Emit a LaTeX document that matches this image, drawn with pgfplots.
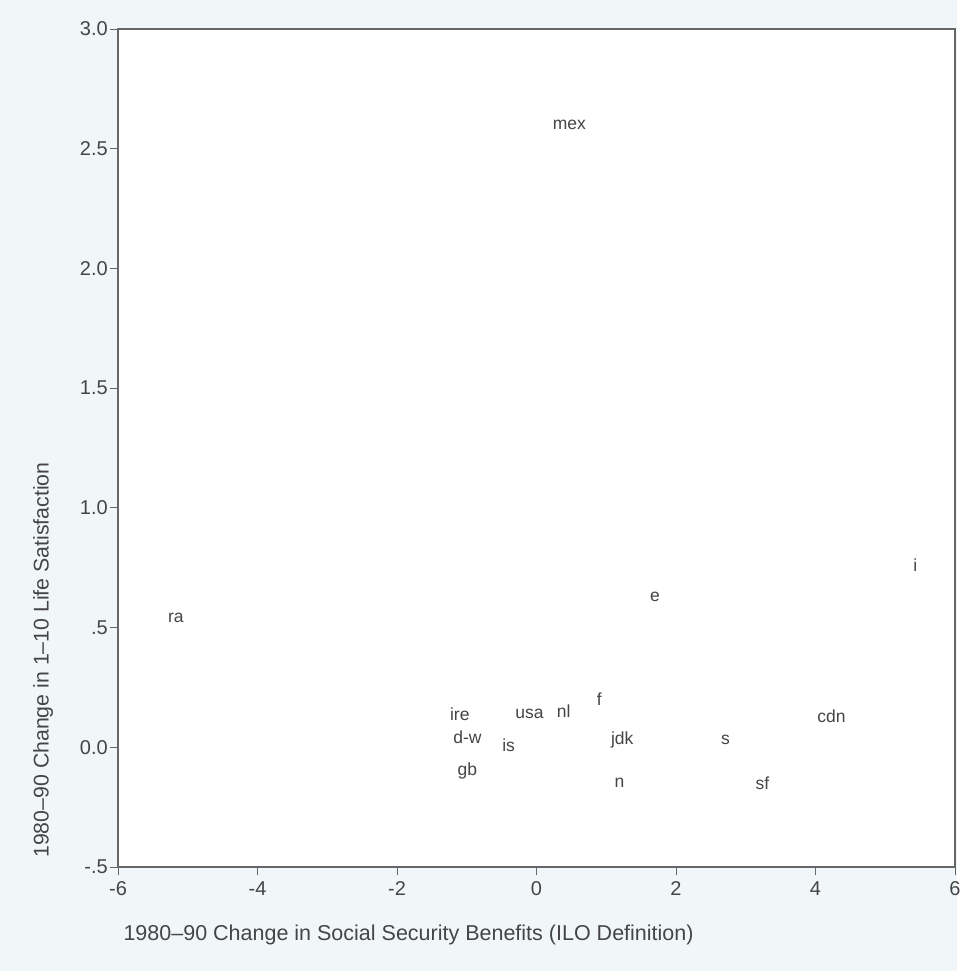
\documentclass[border=0pt]{standalone}
\usepackage{pgfplots}
\pgfplotsset{compat=1.18}
\usepackage{pgfplotstable}
\usetikzlibrary{backgrounds}
\usepackage{fontspec}
\setmainfont{Liberation Sans}
\definecolor{txt}{HTML}{454545}
\definecolor{axc}{HTML}{666666}
\definecolor{pagebg}{HTML}{F1F7F9}
\pgfplotstableread{
x y lab
0.47 2.60 mex
-5.17 0.54 ra
5.43 0.76 i
1.70 0.63 e
-1.10 0.14 ire
-0.10 0.14 usa
0.39 0.15 nl
0.90 0.20 f
4.23 0.13 cdn
-0.99 0.04 d-w
-0.40 0.01 is
1.23 0.03 jdk
2.71 0.03 s
-0.99 -0.10 gb
1.19 -0.15 n
3.24 -0.15 sf
}\datatable
\begin{document}
\begin{tikzpicture}
\begin{axis}[
  scale only axis,
  width=837pt, height=838pt,
  xmin=-6, xmax=6, ymin=-0.5, ymax=3.0,
  axis background/.style={fill=white},
  axis line style={axc, line width=1.1pt},
  xtick={-6,-4,-2,0,2,4,6},
  xticklabels={-6,-4,-2,0,2,4,6},
  ytick={-0.5,0,0.5,1,1.5,2,2.5,3},
  yticklabels={-.5,0.0,.5,1.0,1.5,2.0,2.5,3.0},
  tick align=outside,
  xtick pos=left, ytick pos=left,
  major tick length=8pt,
  tick style={axc, line width=0.9pt},
  /pgf/number format/assume math mode=true,
  ticklabel style={font=\fontsize{20}{22}\selectfont, text=txt},
  yticklabel style={inner sep=2pt},
  xticklabel style={yshift=-3pt},
  xlabel={1980--90 Change in Social Security Benefits (ILO Definition)},
  ylabel={1980--90 Change in 1--10 Life Satisfaction},
  every axis x label/.style={at={(axis description cs:0,0)}, anchor=west, xshift=2pt, yshift=-68pt, font=\fontsize{21.5}{23}\selectfont, text=txt},
  every axis y label/.style={at={(axis description cs:-0.0896,0.247)}, rotate=90, anchor=center, font=\fontsize{21.3}{23}\selectfont, text=txt},
]
\addplot[only marks, mark=*, mark size=0pt, mark options={draw=none, fill=none},
  nodes near coords, point meta=explicit symbolic,
  nodes near coords align={anchor=center},
  every node near coord/.append style={anchor=center, font=\fontsize{17.5}{19}\selectfont, text=txt}]
  table[x=x, y=y, meta=lab] {\datatable};
\end{axis}
\path (current axis.south west) ++(-118pt,-104pt) coordinate (bbsw);
\path (current axis.north east) ++(2pt,29pt) coordinate (bbne);
\begin{scope}[on background layer]
\fill[pagebg] (bbsw) rectangle (bbne);
\end{scope}
\end{tikzpicture}
\end{document}
